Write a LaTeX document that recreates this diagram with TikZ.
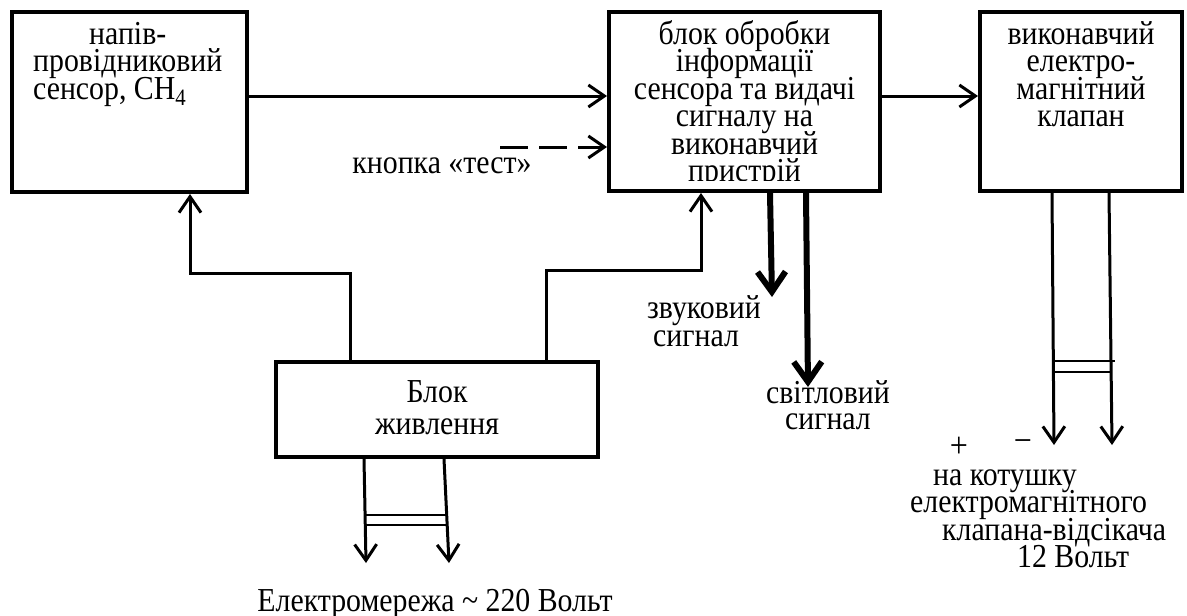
\documentclass[tikz,border=0pt]{standalone}
\usepackage{fontspec}
\setmainfont{Liberation Serif}[FakeStretch=0.89]
\usetikzlibrary{arrows.meta}
% stacked lines with a fixed baseline distance (first line is the baseline)
\newcommand{\clines}[1]{\vtop{\baselineskip=27.5pt\lineskiplimit=-100pt\lineskip=0pt\halign{\hfil##\hfil\cr#1\crcr}}}
\newcommand{\llines}[1]{\vtop{\baselineskip=27.5pt\lineskiplimit=-100pt\lineskip=0pt\halign{##\hfil\cr#1\crcr}}}
\tikzset{
  blk/.style={draw, line width=4pt, rectangle, inner sep=0pt},
  txt/.style={inner sep=0pt, font=\fontsize{33.5}{27.5}\selectfont},
  sgn/.style={inner sep=0pt, font=\fontsize{36}{36}\selectfont},
  arr/.style={line width=3pt, -{Straight Barb[length=16pt,width=22pt]}},
  sig/.style={line width=6pt, -{Straight Barb[length=20pt,width=28pt]}},
  dsh/.style={arr, dash pattern=on 28pt off 11pt},
  bar/.style={line width=1.5pt}
}
\begin{document}
\begin{tikzpicture}[x=1pt,y=-1pt]
\useasboundingbox (0,0) rectangle (1187,616);
% boxes
\node[blk, minimum width=235pt, minimum height=180pt] (sensor) at (129.5,102) {};
\node[blk, minimum width=271pt, minimum height=179pt] (proc) at (744.5,101.5) {};
\node[blk, minimum width=202pt, minimum height=179pt] (valve) at (1081,101.5) {};
\node[blk, minimum width=322pt, minimum height=95pt] (power) at (437,409.5) {};
% box texts
\node[txt, anchor=base west] (sensortxt) at (33,44)
  {\llines{\omit\hfil напів-\hfil\cr провідниковий\cr сенсор, CH\textsubscript{4}}};
\begin{scope}
  \clip (611,14) rectangle (878,180);
  \node[txt, anchor=base] (proctxt) at (744.5,44)
    {\clines{блок обробки\cr інформації\cr сенсора та видачі\cr сигналу на\cr виконавчий\cr пристрій}};
\end{scope}
\node[txt, anchor=base] (valvetxt) at (1081,44)
  {\clines{виконавчий\cr електро-\cr магнітний\cr клапан}};
\node[txt, anchor=base] (powertxt) at (437,402)
  {\clines{Блок\cr\noalign{\vskip4.5pt}живлення}};
% signal flow
\coordinate (s1) at ([yshift=6pt]sensor.east);
\draw[arr] (s1) -- (s1 -| proc.west);
\draw[arr] ([yshift=5.5pt]proc.east) -- ([yshift=5.5pt]valve.west);
\coordinate (btn) at (500,147);
\draw[dsh] (btn) -- (btn -| proc.west);
\node[txt, anchor=base] (btntxt) at (442,173) {кнопка «тест»};
% power feeds
\draw[arr] ([xshift=76pt]power.north west) -- ++(0,-87) -| ([xshift=180pt]sensor.south west);
\draw[arr] ([xshift=272pt]power.north west) -- ++(0,-90) -| ([xshift=94pt]proc.south west);
% outputs of processing block
\coordinate (snd) at (772,297);
\coordinate (lgt) at (808,387);
\draw[sig] ([xshift=163pt]proc.south west) -- (snd);
\draw[sig] ([xshift=199pt]proc.south west) -- (lgt);
\node[txt, anchor=base west] (sndtxt) at (647,318) {\llines{звуковий\cr\noalign{\vskip1pt}\hspace*{6pt}сигнал}};
\node[txt, anchor=base] (lgttxt) at (828,403) {\clines{світловий\cr\noalign{\vskip-1.5pt}сигнал}};
% mains
\coordinate (mL) at (366,563);
\coordinate (mR) at (449,563);
\draw[arr] ([xshift=90pt]power.south west) -- (mL);
\draw[arr] ([xshift=170pt]power.south west) -- (mR);
\draw[bar] (366,515) -- (447.5,515);
\draw[bar] (366,525) -- (448,525);
\node[txt, anchor=base] (mainstxt) at (435,611) {Електромережа \textasciitilde{} 220 Вольт};
% valve coil
\coordinate (vL) at (1054,445);
\coordinate (vR) at (1112,445);
\draw[arr] ([xshift=74pt]valve.south west) -- (vL);
\draw[arr] ([xshift=131pt]valve.south west) -- (vR);
\draw[bar] (1054,361) -- (1115,361);
\draw[bar] (1054,372) -- (1112,372);
\node[sgn] (plus) at (959,447) {+};
\node[sgn] (minus) at (1023,446) {−};
\node[txt, anchor=base west] (coiltxt) at (910,485)
  {\llines{\hspace*{23pt}на котушку\cr електромагнітного\cr\hspace*{32pt}клапана-відсікача\cr\hspace*{107pt}12 Вольт}};
\end{tikzpicture}
\end{document}
